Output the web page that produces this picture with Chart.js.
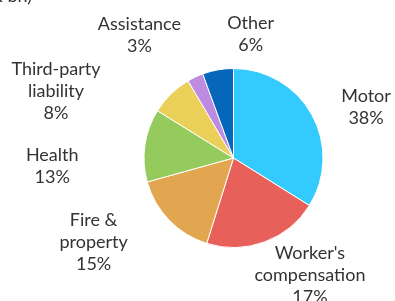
<!DOCTYPE html>
<html>
<head>
<meta charset="utf-8">
<script src="https://cdn.jsdelivr.net/npm/chart.js@4"></script>
<style>
  html, body { margin: 0; padding: 0; background: #fff; }
  #wrap { width: 395px; height: 301px; }
</style>
</head>
<body>
<div id="wrap"><canvas id="pie"></canvas></div>
<script>
const categories = ["Motor", "Worker's\ncompensation", "Fire &\nproperty", "Health", "Third-party\nliability", "Assistance", "Other"];
const shares = [34, 21, 15.9, 13.2, 7.7, 2.9, 5.6];
const shareLabels = ["38%", "17%", "15%", "13%", "8%", "3%", "6%"];
const sliceColors = ["#33CBFD", "#E8605A", "#E3A650", "#95CB5D", "#EACF58", "#BE8BE0", "#0566BA"];

const textColor = "#333333";
const labelFont = "18px Lato";

// nudges relative to the mid-angle anchor, to follow the reference label layout
const labelNudge = [[28, 7], [35, 5], [-54, 1], [-63, 25], [-94, 19], [-43, -15], [38, -6]];

const sliceLabels = {
	id: "sliceLabels",
	afterDraw(chart) {
		const ctx = chart.ctx;
		const arcs = chart.getDatasetMeta(0).data;
		ctx.save();
		ctx.font = labelFont;
		ctx.fillStyle = textColor;
		ctx.textAlign = "center";
		ctx.textBaseline = "middle";
		arcs.forEach((arc, i) => {
			const mid = (arc.startAngle + arc.endAngle) / 2;
			const dist = arc.outerRadius + 30;
			const x = arc.x + Math.cos(mid) * dist + labelNudge[i][0];
			const y = arc.y + Math.sin(mid) * dist + labelNudge[i][1];
			const lines = categories[i].split("\n").concat(shareLabels[i]);
			const top = y - (lines.length - 1) * 11;
			lines.forEach((ln, j) => ctx.fillText(ln, x, top + j * 22));
		});
		// title cut off at the top edge
		ctx.textAlign = "right";
		ctx.textBaseline = "alphabetic";
		ctx.fillText("(EUR bn)", 32, 2);
		ctx.restore();
	},
};

new Chart(document.getElementById("pie"), {
	type: "pie",
	data: {
		labels: categories,
		datasets: [
			{
				data: shares,
				backgroundColor: sliceColors,
				borderColor: "#ffffff",
				borderWidth: 1,
			},
		],
	},
	options: {
		responsive: true,
		maintainAspectRatio: false,
		animation: false,
		layout: {
			padding: { left: 143, right: 71, top: 68, bottom: 53 },
		},
		plugins: {
			legend: { display: false },
			tooltip: { enabled: false },
		},
	},
	plugins: [sliceLabels],
});
</script>
</body>
</html>
